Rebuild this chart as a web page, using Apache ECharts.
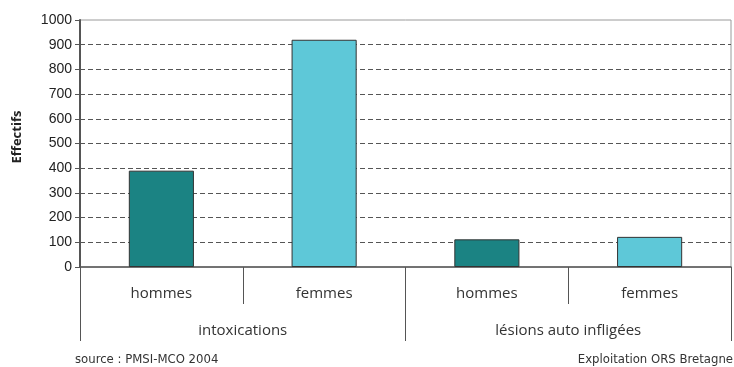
<!DOCTYPE html>
<html>
<head>
<meta charset="utf-8">
<style>html,body{margin:0;padding:0;background:#fff}#c{width:734px;height:367px}</style>
<script src="https://cdn.jsdelivr.net/npm/echarts@6/dist/echarts.min.js"></script>
</head>
<body>
<div id="c"></div>
<script>
var categories = ['hommes', 'femmes', 'hommes', 'femmes'];
var groups = ['intoxications', 'lésions auto infligées'];
var values = [390, 920, 112, 122];
var barColors = ['#1b8383', '#5ec8d8', '#1b8383', '#5ec8d8'];
var yTicks = [0, 100, 200, 300, 400, 500, 600, 700, 800, 900, 1000];
var yTitle = 'Effectifs';
var footLeft = 'source : PMSI-MCO 2004';
var footRight = 'Exploitation ORS Bretagne';

var chart = echarts.init(document.getElementById('c'), null, {renderer: 'canvas'});
chart.setOption({
  animation: false,
  grid: {left: 80, right: 3, top: 20, bottom: 100, show: true, borderColor: '#9a9a9a', borderWidth: 1},
  xAxis: [{
    type: 'category', data: categories, position: 'bottom',
    axisLine: {show: true, lineStyle: {color: '#555', width: 1.5}},
    axisTick: {show: true, interval: 0, length: 37, lineStyle: {color: '#555'}},
    axisLabel: {show: true, interval: 0, margin: 19, color: '#333', fontFamily: 'Open Sans', fontSize: 15}
  }, {
    type: 'category', data: groups, position: 'bottom',
    axisLine: {show: false},
    axisTick: {show: true, interval: 0, length: 74, lineStyle: {color: '#555'}},
    axisLabel: {show: true, interval: 0, margin: 56, color: '#333', fontFamily: 'Open Sans', fontSize: 15}
  }],
  yAxis: {
    type: 'value', min: yTicks[0], max: yTicks[yTicks.length - 1], interval: 100,
    axisLine: {show: true, lineStyle: {color: '#555', width: 2}},
    axisTick: {show: true, length: 5, lineStyle: {color: '#555'}},
    axisLabel: {margin: 8, color: '#222', fontFamily: 'Liberation Sans', fontSize: 14,
      formatter: function (v) { return String(v); }},
    splitLine: {show: true, showMinLine: false, showMaxLine: false, lineStyle: {color: '#555', type: [5, 3], width: 1}}
  },
  series: [{
    type: 'bar', xAxisIndex: 0,
    data: values.map(function (v, i) { return {value: v, itemStyle: {color: barColors[i]}}; }),
    barWidth: '40%',
    itemStyle: {borderColor: '#333', borderWidth: 1}
  }],
  graphic: [{
    type: 'text', x: 17, y: 137, rotation: Math.PI / 2,
    style: {text: yTitle, font: 'bold 13px "Open Sans", sans-serif', fill: '#222', align: 'center', verticalAlign: 'middle'}
  }, {
    type: 'text', left: 75, top: 353,
    style: {text: footLeft, font: '13px "DejaVu Sans Condensed", "Liberation Sans", sans-serif', fill: '#333'}
  }, {
    type: 'text', right: 1, top: 353,
    style: {text: footRight, font: '13px "DejaVu Sans Condensed", "Liberation Sans", sans-serif', fill: '#333'}
  }]
});
</script>
</body>
</html>
